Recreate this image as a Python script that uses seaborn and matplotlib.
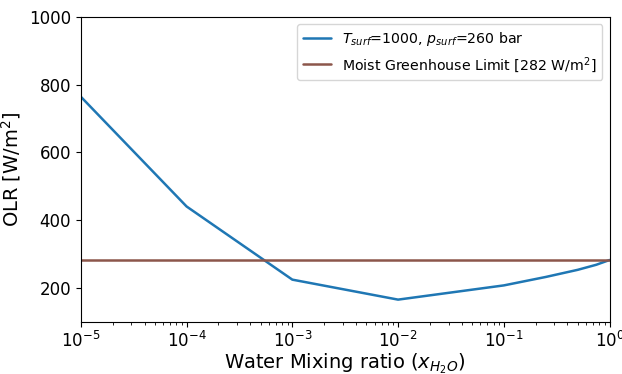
import matplotlib
matplotlib.use("Agg")
import matplotlib.pyplot as plt
import seaborn as sns
import pandas as pd

sns.set_style("ticks")
plt.rcParams["font.family"] = ["DejaVu Sans"]
plt.rcParams.update({
    "text.color": "black",
    "axes.labelcolor": "black",
    "xtick.color": "black",
    "ytick.color": "black",
    "axes.edgecolor": "black",
})

# Water mixing ratio and resulting outgoing longwave radiation
x_h2o = [1e-5, 1e-4, 1e-3, 1e-2, 1e-1, 0.25, 0.5, 0.75, 1.0]
olr = [764, 440, 224, 165, 207, 232, 253, 268, 282]
moist_greenhouse_limit = 282

df = pd.DataFrame({"x": x_h2o, "olr": olr})

fig, ax = plt.subplots(figsize=(6.22, 3.74), dpi=100)
sns.lineplot(data=df, x="x", y="olr", ax=ax, color="tab:blue", lw=1.8,
             label=r"$T_{surf}$=1000, $p_{surf}$=260 bar")
ax.axhline(moist_greenhouse_limit, color="tab:brown", lw=1.8,
           label=r"Moist Greenhouse Limit [282 W/m$^2$]")

ax.set_xscale("log")
ax.set_xlim(1e-5, 1)
ax.set_ylim(100, 1000)
ax.set_yticks([200, 400, 600, 800, 1000])
ax.tick_params(labelsize=12)
ax.set_xlabel(r"Water Mixing ratio ($x_{H_2O}$)", fontsize=14, labelpad=0)
ax.set_ylabel(r"OLR [W/m$^2$]", fontsize=14, labelpad=4)
ax.legend(loc="upper right", fontsize=10.2, frameon=True)

fig.subplots_adjust(left=0.13, right=0.98, top=0.955, bottom=0.14)
fig.savefig("out.png", dpi=100)
